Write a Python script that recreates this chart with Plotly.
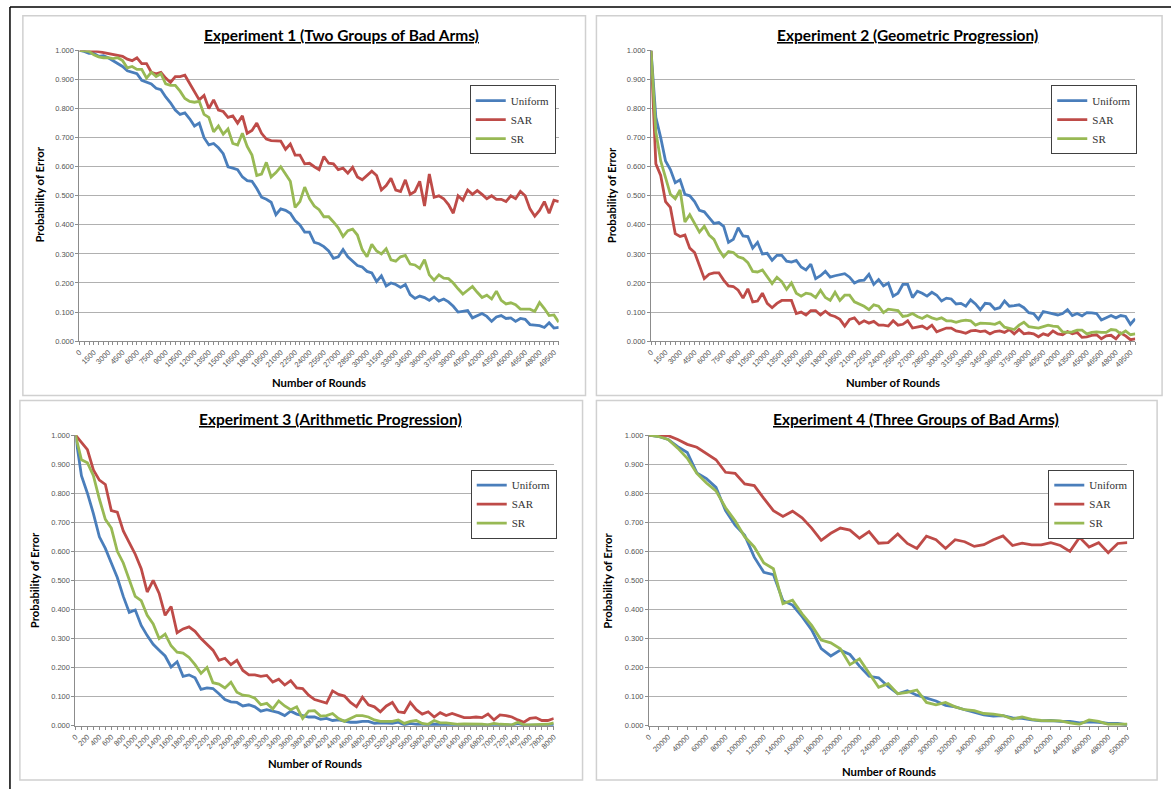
import plotly.graph_objects as go

# ---------------- DATA ----------------
rounds1 = list(range(0, 50001, 500))
rounds2 = list(range(0, 50001, 500))
rounds3 = list(range(0, 8001, 100))
rounds4 = list(range(0, 500001, 10000))

exp1_uniform = [1.000, 0.997, 0.990, 0.990, 0.980, 0.982, 0.975, 0.965, 0.955, 0.945,
                0.930, 0.925, 0.920, 0.897, 0.890, 0.885, 0.870, 0.865, 0.840, 0.820,
                0.795, 0.780, 0.785, 0.765, 0.740, 0.750, 0.700, 0.675, 0.680, 0.665,
                0.645, 0.600, 0.595, 0.590, 0.565, 0.552, 0.550, 0.525, 0.495, 0.488,
                0.478, 0.435, 0.455, 0.450, 0.440, 0.415, 0.400, 0.375, 0.375, 0.340,
                0.335, 0.325, 0.310, 0.285, 0.290, 0.315, 0.290, 0.275, 0.260, 0.255,
                0.240, 0.235, 0.205, 0.225, 0.190, 0.200, 0.195, 0.185, 0.195, 0.160,
                0.147, 0.155, 0.150, 0.140, 0.152, 0.138, 0.145, 0.135, 0.120, 0.100,
                0.102, 0.105, 0.080, 0.087, 0.095, 0.085, 0.068, 0.083, 0.088, 0.078,
                0.080, 0.068, 0.078, 0.075, 0.057, 0.055, 0.053, 0.047, 0.063, 0.045,
                0.047]
exp1_sar = [1.000, 1.000, 1.000, 0.998, 0.996, 0.993, 0.990, 0.988, 0.985, 0.980,
            0.970, 0.965, 0.975, 0.955, 0.955, 0.925, 0.920, 0.925, 0.905, 0.890,
            0.910, 0.910, 0.915, 0.885, 0.860, 0.830, 0.845, 0.800, 0.830, 0.795,
            0.790, 0.770, 0.775, 0.750, 0.775, 0.715, 0.725, 0.750, 0.715, 0.695,
            0.690, 0.688, 0.688, 0.660, 0.678, 0.640, 0.640, 0.610, 0.612, 0.600,
            0.590, 0.635, 0.612, 0.610, 0.590, 0.595, 0.578, 0.598, 0.565, 0.555,
            0.570, 0.585, 0.570, 0.520, 0.535, 0.560, 0.520, 0.515, 0.555, 0.505,
            0.515, 0.550, 0.465, 0.575, 0.495, 0.500, 0.490, 0.470, 0.440, 0.500,
            0.485, 0.520, 0.505, 0.518, 0.505, 0.490, 0.500, 0.488, 0.488, 0.480,
            0.500, 0.490, 0.515, 0.500, 0.455, 0.430, 0.450, 0.480, 0.440, 0.485,
            0.480]
exp1_sr = [1.000, 0.998, 0.997, 0.985, 0.978, 0.975, 0.975, 0.972, 0.975, 0.965,
           0.940, 0.945, 0.935, 0.935, 0.905, 0.925, 0.910, 0.920, 0.885, 0.880,
           0.880, 0.860, 0.835, 0.825, 0.822, 0.825, 0.780, 0.770, 0.720, 0.740,
           0.712, 0.730, 0.680, 0.675, 0.715, 0.670, 0.640, 0.570, 0.575, 0.615,
           0.565, 0.580, 0.600, 0.575, 0.550, 0.460, 0.480, 0.530, 0.490, 0.465,
           0.452, 0.428, 0.428, 0.410, 0.390, 0.360, 0.380, 0.385, 0.365, 0.315,
           0.290, 0.333, 0.310, 0.300, 0.318, 0.280, 0.275, 0.290, 0.295, 0.265,
           0.262, 0.250, 0.280, 0.228, 0.210, 0.228, 0.217, 0.215, 0.200, 0.180,
           0.162, 0.175, 0.188, 0.168, 0.150, 0.158, 0.145, 0.172, 0.140, 0.128,
           0.132, 0.125, 0.110, 0.110, 0.110, 0.102, 0.133, 0.112, 0.088, 0.090,
           0.065]

exp2_uniform = [1.000, 0.770, 0.700, 0.620, 0.590, 0.545, 0.555, 0.505, 0.500, 0.480,
                0.450, 0.445, 0.425, 0.405, 0.408, 0.395, 0.340, 0.350, 0.390, 0.362,
                0.360, 0.320, 0.340, 0.300, 0.302, 0.278, 0.295, 0.295, 0.275, 0.272,
                0.278, 0.255, 0.245, 0.265, 0.215, 0.225, 0.240, 0.220, 0.225, 0.228,
                0.232, 0.220, 0.200, 0.208, 0.210, 0.230, 0.195, 0.212, 0.190, 0.200,
                0.155, 0.165, 0.195, 0.195, 0.150, 0.172, 0.165, 0.155, 0.168, 0.158,
                0.138, 0.148, 0.145, 0.128, 0.130, 0.120, 0.142, 0.128, 0.108, 0.130,
                0.128, 0.110, 0.115, 0.138, 0.120, 0.122, 0.125, 0.115, 0.098, 0.095,
                0.075, 0.102, 0.098, 0.095, 0.090, 0.095, 0.108, 0.088, 0.095, 0.087,
                0.098, 0.097, 0.095, 0.073, 0.080, 0.088, 0.080, 0.088, 0.085, 0.058,
                0.077]
exp2_sar = [1.000, 0.610, 0.570, 0.480, 0.460, 0.370, 0.360, 0.365, 0.320, 0.305,
            0.260, 0.215, 0.230, 0.235, 0.235, 0.210, 0.190, 0.188, 0.175, 0.148,
            0.180, 0.135, 0.138, 0.165, 0.130, 0.115, 0.130, 0.140, 0.140, 0.140,
            0.095, 0.100, 0.090, 0.105, 0.105, 0.090, 0.103, 0.090, 0.085, 0.075,
            0.052, 0.075, 0.080, 0.060, 0.070, 0.062, 0.068, 0.055, 0.055, 0.052,
            0.070, 0.055, 0.058, 0.070, 0.045, 0.048, 0.052, 0.042, 0.055, 0.032,
            0.038, 0.045, 0.045, 0.035, 0.032, 0.027, 0.035, 0.037, 0.033, 0.035,
            0.025, 0.033, 0.035, 0.030, 0.040, 0.025, 0.040, 0.025, 0.028, 0.025,
            0.015, 0.025, 0.020, 0.035, 0.025, 0.022, 0.033, 0.025, 0.030, 0.013,
            0.015, 0.020, 0.022, 0.008, 0.018, 0.020, 0.008, 0.028, 0.018, 0.005,
            0.008]
exp2_sr = [1.000, 0.720, 0.620, 0.565, 0.505, 0.490, 0.520, 0.410, 0.435, 0.405,
           0.375, 0.395, 0.365, 0.350, 0.315, 0.290, 0.308, 0.305, 0.290, 0.285,
           0.270, 0.240, 0.238, 0.245, 0.222, 0.198, 0.220, 0.205, 0.178, 0.200,
           0.165, 0.155, 0.165, 0.162, 0.150, 0.175, 0.150, 0.140, 0.168, 0.140,
           0.158, 0.158, 0.135, 0.128, 0.120, 0.108, 0.125, 0.120, 0.098, 0.110,
           0.108, 0.105, 0.085, 0.088, 0.095, 0.085, 0.078, 0.088, 0.080, 0.075,
           0.080, 0.070, 0.070, 0.065, 0.070, 0.072, 0.070, 0.055, 0.062, 0.062,
           0.060, 0.058, 0.065, 0.048, 0.045, 0.040, 0.055, 0.065, 0.050, 0.048,
           0.045, 0.050, 0.055, 0.052, 0.050, 0.032, 0.030, 0.032, 0.038, 0.038,
           0.025, 0.030, 0.032, 0.030, 0.030, 0.040, 0.038, 0.025, 0.035, 0.022,
           0.025]

exp3_uniform = [1.000, 0.860, 0.800, 0.730, 0.650, 0.610, 0.560, 0.510, 0.445, 0.390,
                0.398, 0.345, 0.310, 0.280, 0.260, 0.240, 0.202, 0.220, 0.170, 0.175,
                0.165, 0.125, 0.130, 0.128, 0.110, 0.090, 0.082, 0.080, 0.068, 0.072,
                0.065, 0.050, 0.055, 0.050, 0.045, 0.035, 0.050, 0.040, 0.035, 0.030,
                0.030, 0.022, 0.025, 0.018, 0.020, 0.015, 0.012, 0.012, 0.015, 0.015,
                0.008, 0.010, 0.010, 0.008, 0.012, 0.003, 0.008, 0.005, 0.005, 0.003,
                0.005, 0.003, 0.003, 0.003, 0.002, 0.002, 0.002, 0.003, 0.002, 0.002,
                0.005, 0.002, 0.003, 0.002, 0.007, 0.002, 0.002, 0.002, 0.002, 0.002,
                0.002]
exp3_sar = [1.000, 0.975, 0.950, 0.880, 0.845, 0.830, 0.740, 0.735, 0.670, 0.630,
            0.590, 0.540, 0.460, 0.500, 0.455, 0.380, 0.410, 0.320, 0.333, 0.340,
            0.325, 0.300, 0.280, 0.260, 0.225, 0.232, 0.210, 0.225, 0.190, 0.175,
            0.175, 0.170, 0.173, 0.150, 0.160, 0.140, 0.155, 0.130, 0.128, 0.105,
            0.090, 0.085, 0.078, 0.120, 0.108, 0.102, 0.080, 0.065, 0.098, 0.072,
            0.065, 0.048, 0.068, 0.080, 0.048, 0.045, 0.080, 0.055, 0.040, 0.048,
            0.030, 0.045, 0.035, 0.042, 0.035, 0.028, 0.028, 0.030, 0.028, 0.040,
            0.020, 0.037, 0.035, 0.030, 0.020, 0.012, 0.025, 0.028, 0.018, 0.018,
            0.025]
exp3_sr = [1.000, 0.915, 0.905, 0.860, 0.780, 0.710, 0.680, 0.600, 0.560, 0.500,
           0.445, 0.430, 0.380, 0.350, 0.300, 0.315, 0.275, 0.253, 0.250, 0.235,
           0.210, 0.180, 0.200, 0.148, 0.143, 0.130, 0.150, 0.115, 0.105, 0.103,
           0.095, 0.072, 0.077, 0.058, 0.085, 0.068, 0.055, 0.065, 0.025, 0.050,
           0.052, 0.033, 0.035, 0.042, 0.025, 0.015, 0.025, 0.035, 0.035, 0.030,
           0.020, 0.015, 0.015, 0.015, 0.020, 0.008, 0.015, 0.018, 0.008, 0.005,
           0.018, 0.010, 0.010, 0.008, 0.005, 0.006, 0.006, 0.006, 0.005, 0.003,
           0.008, 0.005, 0.005, 0.003, 0.012, 0.003, 0.003, 0.003, 0.004, 0.005,
           0.010]

exp4_uniform = [1.000, 0.995, 0.985, 0.960, 0.940, 0.870, 0.850, 0.820, 0.740, 0.690,
                0.655, 0.580, 0.528, 0.520, 0.430, 0.415, 0.375, 0.330, 0.265, 0.240,
                0.260, 0.245, 0.205, 0.170, 0.165, 0.135, 0.110, 0.120, 0.105, 0.095,
                0.085, 0.070, 0.065, 0.055, 0.047, 0.037, 0.033, 0.035, 0.027, 0.025,
                0.020, 0.017, 0.018, 0.015, 0.015, 0.010, 0.013, 0.012, 0.008, 0.008,
                0.003]
exp4_sar = [1.000, 1.000, 0.998, 0.985, 0.968, 0.958, 0.935, 0.915, 0.872, 0.868,
            0.832, 0.826, 0.782, 0.740, 0.720, 0.738, 0.715, 0.680, 0.638, 0.662,
            0.680, 0.673, 0.645, 0.668, 0.628, 0.630, 0.660, 0.627, 0.610, 0.652,
            0.640, 0.610, 0.640, 0.633, 0.617, 0.623, 0.640, 0.653, 0.620, 0.628,
            0.622, 0.622, 0.630, 0.620, 0.600, 0.648, 0.615, 0.630, 0.595, 0.627,
            0.630]
exp4_sr = [1.000, 0.995, 0.985, 0.955, 0.920, 0.868, 0.835, 0.808, 0.750, 0.705,
           0.650, 0.615, 0.560, 0.540, 0.420, 0.432, 0.385, 0.345, 0.295, 0.285,
           0.265, 0.210, 0.230, 0.180, 0.132, 0.145, 0.110, 0.115, 0.123, 0.080,
           0.072, 0.080, 0.065, 0.055, 0.052, 0.042, 0.040, 0.035, 0.023, 0.030,
           0.022, 0.018, 0.017, 0.017, 0.010, 0.005, 0.020, 0.015, 0.005, 0.005,
           0.005]

series_names = ["Uniform", "SAR", "SR"]
series_colors = ["#4A7EBB", "#BE4B48", "#98B954"]

titles = ["Experiment 1 (Two Groups of Bad Arms)",
          "Experiment 2 (Geometric Progression)",
          "Experiment 3 (Arithmetic Progression)",
          "Experiment 4 (Three Groups of Bad Arms)"]
y_title = "Probability of Error"
x_title = "Number of Rounds"
y_ticks = [0.0, 0.1, 0.2, 0.3, 0.4, 0.5, 0.6, 0.7, 0.8, 0.9, 1.0]

# ---------------- LAYOUT HELPERS ----------------
W, H = 1175, 794


def px(x):
    return x / W


def py(y):
    return 1 - y / H


panels = [
    dict(rounds=rounds1, data=[exp1_uniform, exp1_sar, exp1_sr], plot=(75, 558, 47, 341),
         frame=(18, 585, 12, 396), title=(339, 31), ytitle=(35, 193), xtitle=(316, 383),
         legend=(555, 82), step=3),
    dict(rounds=rounds2, data=[exp2_uniform, exp2_sar, exp2_sr], plot=(651, 1139, 47, 341),
         frame=(596, 1166, 12, 396), title=(909, 31), ytitle=(611, 193), xtitle=(895, 383),
         legend=(1141, 82), step=3),
    dict(rounds=rounds3, data=[exp3_uniform, exp3_sar, exp3_sr], plot=(71, 553, 436, 730),
         frame=(15, 582, 401, 785), title=(328, 420), ytitle=(30, 583), xtitle=(312, 768),
         legend=(556, 471), step=2),
    dict(rounds=rounds4, data=[exp4_uniform, exp4_sar, exp4_sr], plot=(649, 1131, 436, 730),
         frame=(596, 1161, 401, 785), title=(918, 420), ytitle=(607, 583), xtitle=(891, 776),
         legend=(1138, 471), step=2),
]

fig = go.Figure()
annotations = []
shapes = []
tick_font = dict(family="Liberation Sans, Arial, sans-serif", size=7.5, color="#555555")
label_font = "Lato, Open Sans, sans-serif"

for i, p in enumerate(panels):
    n = i + 1
    xa = "x" if n == 1 else f"x{n}"
    ya = "y" if n == 1 else f"y{n}"
    lg = "legend" if n == 1 else f"legend{n}"
    for name, color, vals in zip(series_names, series_colors, p["data"]):
        fig.add_trace(go.Scatter(
            x=p["rounds"], y=vals, mode="lines", name=name,
            line=dict(color=color, width=2.8), xaxis=xa, yaxis=ya, legend=lg,
            hoverinfo="skip"))

    x0, x1, yt, yb = p["plot"]
    rounds = p["rounds"]
    labels = rounds[::p["step"]]
    xkey = "xaxis" if n == 1 else f"xaxis{n}"
    ykey = "yaxis" if n == 1 else f"yaxis{n}"
    fig.update_layout({
        xkey: dict(domain=[px(x0), px(x1)], anchor=ya, range=[rounds[0], rounds[-1]],
                   tickmode="array", tickvals=labels, ticktext=[str(v) for v in labels],
                   tickangle=-45, tickfont=tick_font, ticks="outside", ticklen=3,
                   tickcolor="#8c8c8c", showline=True, linecolor="#8c8c8c", linewidth=1,
                   showgrid=False, zeroline=False,
                   minor=dict(tickmode="array", tickvals=rounds, ticks="outside", ticklen=3,
                              tickcolor="#8c8c8c", showgrid=False)),
        ykey: dict(domain=[py(yb), py(yt)], anchor=xa, range=[0, 1.0],
                   tickmode="array", tickvals=y_ticks, tickformat=".3f",
                   tickfont=tick_font, ticks="outside", ticklen=3, tickcolor="#8c8c8c",
                   showline=True, linecolor="#8c8c8c", linewidth=1,
                   showgrid=True, gridcolor="#b0b0b0", gridwidth=1, zeroline=False),
        lg: dict(x=px(p["legend"][0]), y=py(p["legend"][1]), xanchor="right", yanchor="top",
                 bgcolor="white", bordercolor="#404040", borderwidth=1,
                 font=dict(family="Liberation Serif, Times New Roman, serif", size=11,
                           color="#333333"),
                 itemwidth=30, tracegroupgap=0),
    })

    fx0, fx1, fy0, fy1 = p["frame"]
    shapes.append(dict(type="rect", xref="paper", yref="paper", x0=px(fx0), x1=px(fx1),
                       y0=py(fy1), y1=py(fy0), line=dict(color="#d0d0d0", width=1.5),
                       layer="below"))
    annotations.append(dict(text=f"<b><u>{titles[i]}</u></b>", x=px(p["title"][0]),
                            y=py(p["title"][1]), xref="paper", yref="paper",
                            xanchor="center", yanchor="middle", showarrow=False,
                            font=dict(family=label_font, size=15.5, color="#000000")))
    annotations.append(dict(text=f"<b>{y_title}</b>", x=px(p["ytitle"][0]),
                            y=py(p["ytitle"][1]), xref="paper", yref="paper",
                            xanchor="center", yanchor="middle", showarrow=False, textangle=-90,
                            font=dict(family=label_font, size=11.3, color="#000000")))
    annotations.append(dict(text=f"<b>{x_title}</b>", x=px(p["xtitle"][0]),
                            y=py(p["xtitle"][1]), xref="paper", yref="paper",
                            xanchor="center", yanchor="middle", showarrow=False,
                            font=dict(family=label_font, size=11.3, color="#000000")))

# black outer frame lines (left and top)
shapes.append(dict(type="line", xref="paper", yref="paper", x0=px(5), x1=px(5),
                   y0=0, y1=py(3), line=dict(color="#000000", width=1.5)))
shapes.append(dict(type="line", xref="paper", yref="paper", x0=px(5), x1=1,
                   y0=py(3), y1=py(3), line=dict(color="#000000", width=1.5)))

fig.update_layout(width=W, height=H, margin=dict(l=0, r=0, t=0, b=0),
                  paper_bgcolor="white", plot_bgcolor="white",
                  annotations=annotations, shapes=shapes, showlegend=True)

page_fix = (
    "document.documentElement.style.margin='0';"
    "document.documentElement.style.overflow='hidden';"
    "document.body.style.margin='0';"
    "document.body.style.overflow='hidden';"
    "document.querySelectorAll('.plotly-graph-div').forEach(function(d){"
    "d.style.fontSize='0';d.style.lineHeight='0';d.style.overflow='hidden';"
    "if(d.parentElement){d.parentElement.style.fontSize='0';"
    "d.parentElement.style.lineHeight='0';}});"
    "document.querySelectorAll('.svg-container').forEach(function(s){"
    "s.style.verticalAlign='top';});"
)

fig.write_html("out.html", config={"displayModeBar": False}, post_script=page_fix)
